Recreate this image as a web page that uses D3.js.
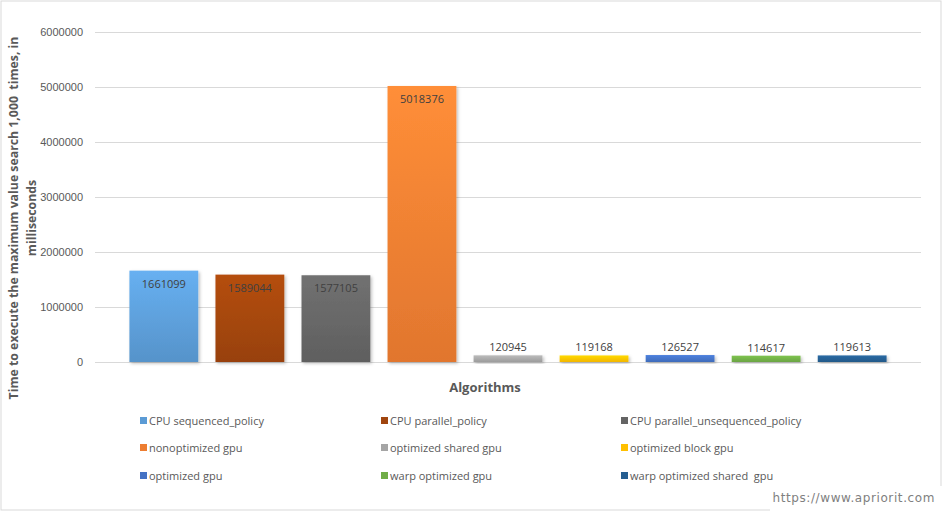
<!DOCTYPE html>
<html>
<head>
<meta charset="utf-8">
<script src="https://cdn.jsdelivr.net/npm/d3@7"></script>
<style>
  body { margin: 0; background: #fff; }
  svg { display: block; font-family: "Open Sans", sans-serif; }
  text { white-space: pre; }
</style>
</head>
<body>
<svg id="chart" width="944" height="511"></svg>
<script>
// data
var names = ["CPU sequenced_policy", "CPU parallel_policy", "CPU parallel_unsequenced_policy",
             "nonoptimized gpu", "optimized shared gpu", "optimized block gpu",
             "optimized gpu", "warp optimized gpu", "warp optimized shared  gpu"];
var times = [1661099, 1589044, 1577105, 5018376, 120945, 119168, 126527, 114617, 119613];
var colors = ["#5b9bd5", "#a0450f", "#646464", "#ed7d31", "#a5a5a5", "#ffc000",
              "#4472c4", "#70ad47", "#255e91"];
var yTicks = [0, 1000000, 2000000, 3000000, 4000000, 5000000, 6000000];

var svg = d3.select("#chart");
var grey = "#595959";

// outer frame
svg.append("rect").attr("x", 1).attr("y", 1).attr("width", 940).attr("height", 509)
    .attr("fill", "#fff").attr("stroke", "#d9d9d9");

var x = d3.scaleBand().domain(names).range([95, 921]).paddingInner(0.2).paddingOuter(0.4);
var y = d3.scaleLinear().domain([0, 6000000]).range([362, 32]);

var defs = svg.append("defs");
colors.forEach(function(c, i) {
    var g = defs.append("linearGradient").attr("id", "g" + i)
        .attr("x1", 0).attr("y1", 0).attr("x2", 0).attr("y2", 1);
    g.append("stop").attr("offset", "0%").attr("stop-color", d3.color(c).brighter(0.35));
    g.append("stop").attr("offset", "100%").attr("stop-color", d3.color(c).darker(0.15));
});
var f = defs.append("filter").attr("id", "shadow").attr("x", "-10%").attr("y", "-10%")
    .attr("width", "130%").attr("height", "130%");
f.append("feDropShadow").attr("dx", 1.5).attr("dy", 1.5).attr("stdDeviation", 1.5)
    .attr("flood-color", "#000").attr("flood-opacity", 0.25);

// gridlines + tick labels
var yAxis = d3.axisLeft(y).tickValues(yTicks).tickSize(-826).tickPadding(12)
    .tickFormat(d3.format("d"));
var ga = svg.append("g").attr("transform", "translate(95,0)").call(yAxis);
ga.select(".domain").remove();
ga.selectAll(".tick line").attr("stroke", "#d9d9d9");
ga.selectAll(".tick text").attr("fill", grey).attr("font-size", 11).attr("x", -12);

// bars
svg.append("g").selectAll("rect").data(times).join("rect")
    .attr("x", function(d, i) { return x(names[i]); })
    .attr("width", x.bandwidth())
    .attr("y", function(d) { return y(d); })
    .attr("height", function(d) { return y(0) - y(d); })
    .attr("fill", function(d, i) { return "url(#g" + i + ")"; })
    .attr("filter", "url(#shadow)");

// value labels
svg.append("g").selectAll("text").data(times).join("text")
    .attr("x", function(d, i) { return x(names[i]) + x.bandwidth() / 2; })
    .attr("y", function(d) {
        var h = y(0) - y(d);
        return h > 30 ? y(d) + 17 : y(d) - 4;
    })
    .attr("text-anchor", "middle").attr("font-size", 11).attr("fill", "#404040")
    .text(function(d) { return d; });

// axis titles
svg.append("text").attr("x", 485).attr("y", 392).attr("text-anchor", "middle")
    .attr("font-size", 13).attr("font-weight", "bold").attr("fill", grey).text("Algorithms");

var yt = svg.append("text").attr("transform", "translate(0,218) rotate(-90)")
    .attr("text-anchor", "middle").attr("font-size", 12.3).attr("font-weight", "bold")
    .attr("fill", grey);
yt.append("tspan").attr("x", 0).attr("y", 18)
    .text("Time to execute the maximum value search 1,000  times, in");
yt.append("tspan").attr("x", 0).attr("y", 36).text("milliseconds");

// legend
var colX = [140, 381, 621];
var rowY = [421, 448, 476];
var lg = svg.append("g").selectAll("g").data(names).join("g")
    .attr("transform", function(d, i) {
        return "translate(" + colX[i % 3] + "," + rowY[Math.floor(i / 3)] + ")";
    });
lg.append("rect").attr("x", 0).attr("y", -4).attr("width", 7).attr("height", 7)
    .attr("fill", function(d, i) { return colors[i]; });
lg.append("text").attr("x", 9).attr("y", 4).attr("font-size", 11).attr("fill", grey)
    .text(function(d) { return d; });

// watermark
svg.append("rect").attr("x", 770).attr("y", 486).attr("width", 174).attr("height", 25)
    .attr("fill", "#fff");
svg.append("text").attr("x", 935).attr("y", 502).attr("text-anchor", "end")
    .attr("font-family", "DejaVu Sans, sans-serif").attr("font-size", 12)
    .attr("letter-spacing", 0.6).attr("fill", "#808080").text("https://www.apriorit.com");
</script>
</body>
</html>
